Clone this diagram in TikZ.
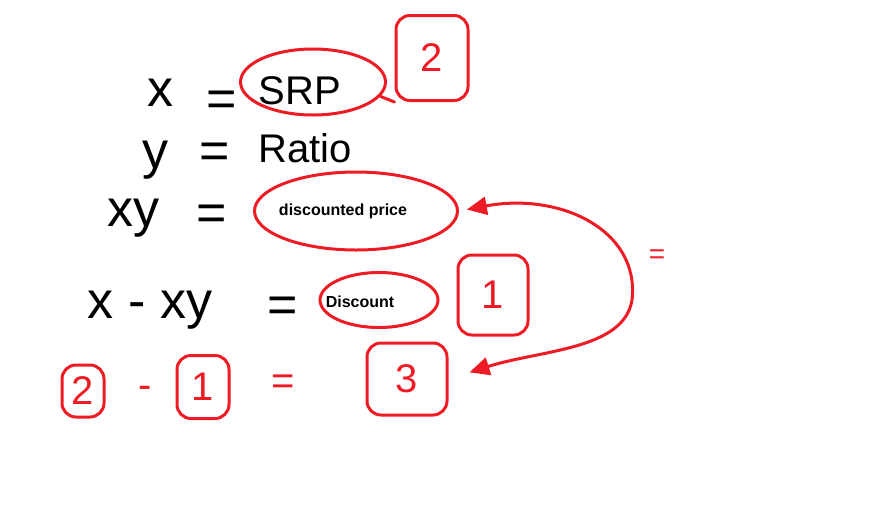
\documentclass[tikz,border=0pt]{standalone}
\usepackage{fontspec}
\setmainfont{Liberation Sans}
\usetikzlibrary{arrows.meta,shapes.geometric}
\definecolor{paintred}{RGB}{237,28,36}
\tikzset{
  hand/.style={font=\fontsize{52}{52}\selectfont},
  capshand/.style={font=\fontsize{40}{40}\selectfont},
  redhand/.style={text=paintred,font=\fontsize{40}{40}\selectfont},
  oval/.style={draw=paintred,line width=3pt,ellipse,inner sep=0pt},
  ring/.style={draw=paintred,line width=3pt,rounded corners=14pt,inner sep=0pt},
  boxtext/.style={font=\bfseries\fontsize{16}{16}\selectfont},
  redline/.style={draw=paintred,line width=3pt,line cap=round}
}
\begin{document}
\begin{tikzpicture}[x=1pt,y=-1pt]
  \useasboundingbox (0,0) rectangle (890,504);
  % rings
  \draw
    (313,82) node[oval,minimum width=145pt,minimum height=66pt] (srpring){}
    (432,58) node[ring,redhand,minimum width=72pt,minimum height=85pt] (twotop){2}
    (356,211) node[oval,minimum width=203pt,minimum height=78pt] (dpring){}
    (379,300) node[oval,minimum width=118pt,minimum height=55pt] (discring){}
    (493,295) node[ring,redhand,minimum width=70pt,minimum height=80pt] (onetop){1}
    (83,391) node[ring,redhand,minimum width=42pt,minimum height=52pt] (twobot){2}
    (203,387) node[ring,redhand,minimum width=52pt,minimum height=63pt] (onebot){1}
    (407,379) node[ring,redhand,minimum width=80pt,minimum height=72pt] (three){3};
  % handwriting
  \draw
    (160,93) node[hand] (x){x}
    (222,104) node[hand] (eqa){=}
    (300,91) node[capshand] (srp){SRP}
    (155,160) node[hand] (y){y}
    (215,156) node[hand] (eqb){=}
    (305,148) node[capshand] (ratio){Ratio}
    (133,218) node[hand] (xy){xy}
    (212,218) node[hand] (eqc){=}
    (343,211) node[boxtext] (dp){discounted price}
    (150,310) node[hand] (xminus){x - xy}
    (283,310) node[hand] (eqd){=}
    (360,302) node[boxtext] (disc){Discount}
    (145,392) node[redhand] (minus){-}
    (283,385) node[redhand] (eqe){=}
    (657,257) node[text=paintred,font=\fontsize{28}{28}\selectfont] (eqf){=};
  \begin{scope}[redline]
    \draw (srpring.-12) -- (twotop.south west);
    \draw[{Triangle[length=20pt,width=18pt]}-{Triangle[length=20pt,width=18pt]},
          shorten <=8pt, shorten >=22pt]
      (dpring.east) .. controls (560,192) and (640,230) .. (632,300)
      .. controls (624,350) and (540,350) .. (three.east);
  \end{scope}
\end{tikzpicture}
\end{document}
